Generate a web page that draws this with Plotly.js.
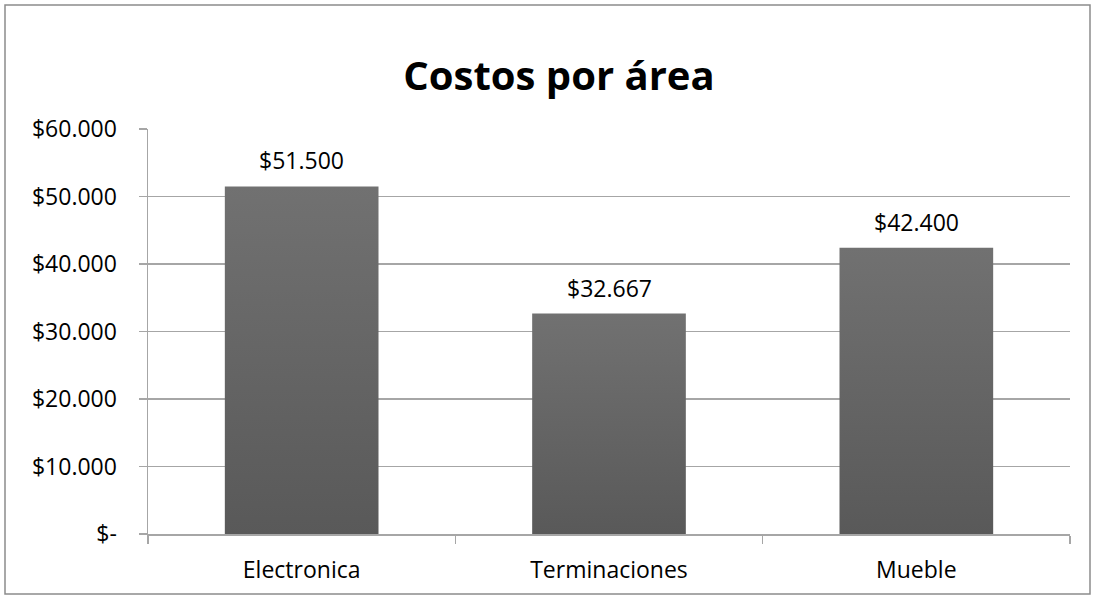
<!DOCTYPE html>
<html>
<head>
<meta charset="utf-8">
<script src="https://cdn.plot.ly/plotly-3.0.1.min.js"></script>
<style>
html,body{margin:0;padding:0;background:#fff;}
#chart{width:1096px;height:600px;}
</style>
</head>
<body>
<div id="chart"></div>
<script>
const categories = ["Electronica", "Terminaciones", "Mueble"];
const values = [51500, 32667, 42400];
const valueLabels = ["$51.500", "$32.667", "$42.400"];
const yTickVals = [0, 10000, 20000, 30000, 40000, 50000, 60000];
const yTickText = ["$-", "$10.000", "$20.000", "$30.000", "$40.000", "$50.000", "$60.000"];

const FONT = "Open Sans, Liberation Sans, sans-serif";

const trace = {
  type: "bar",
  x: categories,
  y: values,
  width: 0.5,
  marker: {color: "#666666", line: {width: 0}},
  hoverinfo: "none"
};

const annotations = categories.map((c, i) => ({
  x: c, y: values[i], xref: "x", yref: "y",
  text: valueLabels[i], showarrow: false,
  yanchor: "bottom", yshift: 8,
  font: {family: FONT, size: 23, color: "#000"}
}));

const layout = {
  width: 1096, height: 600,
  margin: {l: 148, r: 26, t: 129, b: 66},
  paper_bgcolor: "#fff", plot_bgcolor: "#fff",
  showlegend: false,
  title: {
    text: "<b>Costos por área</b>",
    x: 0.51, xanchor: "center", y: 0.873, yanchor: "middle",
    font: {family: FONT, size: 40, color: "#000"}
  },
  xaxis: {
    type: "category",
    showgrid: false, zeroline: false,
    showline: true, linecolor: "#a6a6a6", linewidth: 1.5,
    ticks: "outside", tickson: "boundaries", ticklen: 8, tickcolor: "#a6a6a6", tickwidth: 1.5,
    tickfont: {family: FONT, size: 23, color: "#000"},
    ticklabelstandoff: 15,
    fixedrange: true
  },
  yaxis: {
    range: [0, 60000],
    tickvals: yTickVals, ticktext: yTickText,
    showgrid: true, gridcolor: "#a6a6a6", gridwidth: 1.3,
    zeroline: false,
    showline: true, linecolor: "#a6a6a6", linewidth: 1.5,
    ticks: "outside", ticklen: 8, tickcolor: "#a6a6a6", tickwidth: 1.5,
    tickfont: {family: FONT, size: 23, color: "#000"},
    ticklabelstandoff: 17,
    fixedrange: true
  },
  annotations: annotations,
  shapes: [{
    type: "rect", xref: "paper", yref: "paper",
    x0: (5 - 148) / 922, x1: (1090 - 148) / 922,
    y0: (600 - 66 - 594) / 405, y1: (600 - 66 - 5) / 405,
    line: {color: "#8c8c8c", width: 1.5}, fillcolor: "rgba(0,0,0,0)", layer: "below"
  }]
};

Plotly.newPlot("chart", [trace], layout, {displayModeBar: false, staticPlot: true}).then(function(gd){
  const svg = gd.querySelector("svg.main-svg");
  const ns = "http://www.w3.org/2000/svg";
  let defs = svg.querySelector("defs");
  if (!defs) { defs = document.createElementNS(ns, "defs"); svg.insertBefore(defs, svg.firstChild); }
  const grad = document.createElementNS(ns, "linearGradient");
  grad.setAttribute("id", "barGrad");
  grad.setAttribute("x1", "0"); grad.setAttribute("y1", "0");
  grad.setAttribute("x2", "0"); grad.setAttribute("y2", "1");
  const s1 = document.createElementNS(ns, "stop");
  s1.setAttribute("offset", "0"); s1.setAttribute("stop-color", "#717171");
  const s2 = document.createElementNS(ns, "stop");
  s2.setAttribute("offset", "1"); s2.setAttribute("stop-color", "#595959");
  grad.appendChild(s1); grad.appendChild(s2);
  defs.appendChild(grad);
  gd.querySelectorAll(".bars .point path").forEach(function(p){
    p.style.fill = "url(#barGrad)";
  });
});
</script>
</body>
</html>
